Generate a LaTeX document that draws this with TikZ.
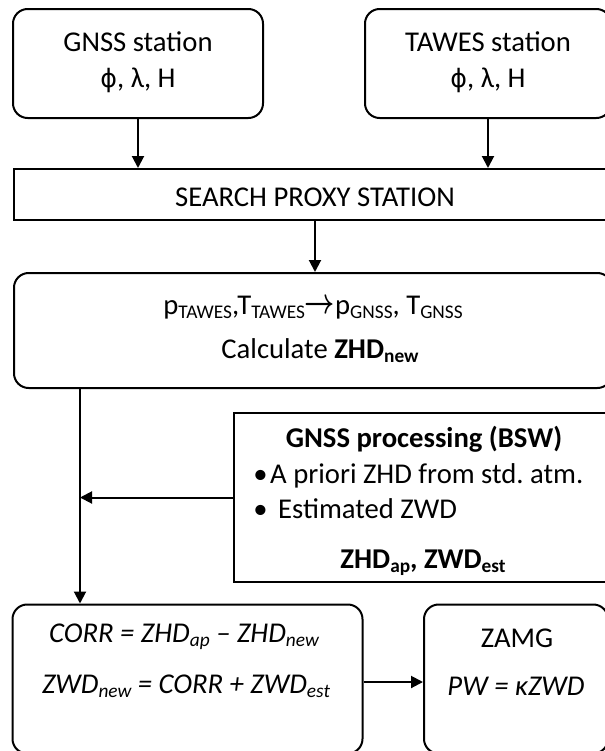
\documentclass[tikz,border=0pt]{standalone}
\usepackage{amsmath}
\usepackage{fontspec}
\setmainfont{Carlito}
\newfontfamily\dvs{DejaVu Sans}
\usetikzlibrary{arrows.meta}
\frenchspacing
\newcommand\lo[1]{\raisebox{-0.32ex}{\fontsize{14.5}{14.5}\selectfont #1}}
\newcommand\phiglyph{{\dvs\fontsize{19}{19}\selectfont ϕ}}
\begin{document}
\begin{tikzpicture}[x=0.75pt,y=-0.75pt,
  rbox/.style={draw, line width=1.5pt, rounded corners=11pt, inner sep=0pt},
  sbox/.style={draw, line width=1.5pt, inner sep=0pt},
  txt/.style={font=\fontsize{21.5}{26}\selectfont, inner sep=0pt, anchor=base},
  conn/.style={line width=1.5pt, -{Triangle[length=9pt,width=9pt]}}]
\useasboundingbox (0,0) rectangle (605,751);
\clip (0,0) rectangle (605,751);
% boxes
\node[rbox, minimum width=187.5pt, minimum height=81.75pt] (gnss) at (138,63.5) {};
\node[rbox, minimum width=184.5pt, minimum height=81.75pt] (tawes) at (488,63.5) {};
\node[sbox, minimum width=451.5pt, minimum height=38.25pt] (search) at (315,194.5) {};
\node[rbox, minimum width=448.5pt, minimum height=86.25pt] (calc) at (313,330.5) {};
\node[sbox, minimum width=285pt, minimum height=126.75pt] (proc) at (424,497.5) {};
\node[rbox, minimum width=262.5pt, minimum height=111.75pt] (corr) at (187.5,679) {};
\node[rbox, minimum width=138pt, minimum height=111.75pt] (zamg) at (516,679) {};
% texts
\node[txt] (g1) at (138,51) {GNSS station};
\node[txt] (g2) at (138,87) {\phiglyph, λ, H};
\node[txt] (t1) at (488,51) {TAWES station};
\node[txt] (t2) at (488,87) {\phiglyph, λ, H};
\node[txt] (s1) at (315,206) {SEARCH PROXY STATION};
\node[txt] (c1) at (313,314) {p\lo{TAWES},T\lo{TAWES}\raisebox{0.5pt}{\scalebox{0.95}[1.3]{$\boldsymbol{\rightarrow}$}}p\lo{GNSS}, T\lo{GNSS}};
\node[txt] (c2) at (320,358) {Calculate \textbf{ZHD\lo{new}}};
\node[txt,font=\fontsize{21.5}{26}\selectfont\bfseries] (p1) at (424,447) {GNSS processing (BSW)};
\node[txt, anchor=base west] (p2) at (253,483) {•\hspace{2pt}A priori ZHD from std. atm.};
\node[txt, anchor=base west] (p3) at (253,518) {•\hspace{8pt}Estimated ZWD};
\node[txt,font=\fontsize{21.5}{26}\selectfont\bfseries] (p4) at (423,568) {ZHD\lo{ap}, ZWD\lo{est}};
\node[txt,font=\fontsize{21.5}{26}\selectfont\itshape] (r1) at (184,642) {CORR = ZHD\lo{ap} – ZHD\lo{new}};
\node[txt,font=\fontsize{21.5}{26}\selectfont\itshape] (r2) at (186,693) {ZWD\lo{new} = CORR + ZWD\lo{est}};
\node[txt] (z1) at (517,647) {ZAMG};
\node[txt,font=\fontsize{21.5}{26}\selectfont\itshape] (z2) at (516,695) {PW = κZWD};
% connectors
\draw[conn] (gnss.south) -- (gnss.south |- search.north);
\draw[conn] (tawes.south) -- (tawes.south |- search.north);
\draw[conn] (search.south -| calc.north) ++(2,0) coordinate (sd) -- (sd |- calc.north);
\coordinate (cl) at (80,0);
\draw[conn] (cl |- calc.south) -- (cl |- corr.north);
\draw[conn] (proc.west) -- (cl |- proc.west);
\draw[conn] (corr.east |- 0,682) -- (zamg.west |- 0,682);
\end{tikzpicture}
\end{document}
